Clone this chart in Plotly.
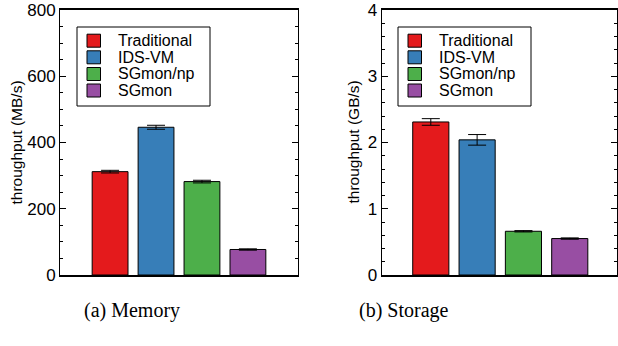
import plotly.graph_objects as go

W, H = 618, 346

series = ["Traditional", "IDS-VM", "SGmon/np", "SGmon"]
colors = ["#e41a1c", "#377eb8", "#4daf4a", "#984ea3"]

mem_values = [312, 446, 282, 77]
mem_errors = [4, 6, 4, 2]
sto_values = [2.31, 2.04, 0.66, 0.55]
sto_errors = [0.05, 0.08, 0.01, 0.01]

mem_ticks = [0, 200, 400, 600, 800]
sto_ticks = [0, 1, 2, 3, 4]


def px_x(p):
    return p / W


def px_y(p):
    return 1 - p / H


fig = go.Figure()
for i, name in enumerate(series):
    fig.add_trace(go.Bar(
        x=[i], y=[mem_values[i]], name=name, xaxis="x", yaxis="y",
        marker=dict(color=colors[i], line=dict(color="black", width=1)),
        error_y=dict(type="data", array=[mem_errors[i]], color="black",
                     thickness=1, width=9),
        width=0.78, showlegend=False,
    ))
    fig.add_trace(go.Bar(
        x=[i], y=[sto_values[i]], name=name, xaxis="x2", yaxis="y2",
        marker=dict(color=colors[i], line=dict(color="black", width=1)),
        error_y=dict(type="data", array=[sto_errors[i]], color="black",
                     thickness=1, width=9),
        width=0.78, showlegend=False,
    ))

ydom = [px_y(275), px_y(10)]
xcommon = dict(showticklabels=False, ticks="", showgrid=False, zeroline=False,
               showline=True, linecolor="black", linewidth=2, mirror=True,
               automargin=False)
ycommon = dict(showgrid=False, zeroline=False, showline=True, linecolor="black",
               linewidth=1, mirror="ticks", ticks="inside", ticklen=6,
               tickcolor="black", tickwidth=1,
               tickfont=dict(family="Liberation Sans", size=17, color="black"),
               automargin=False)

fig.update_layout(
    width=W, height=H,
    margin=dict(l=0, r=0, t=0, b=0, autoexpand=False),
    paper_bgcolor="white", plot_bgcolor="white",
    barmode="overlay",
    xaxis=dict(domain=[px_x(60), px_x(298)], range=[-1.09, 4.09], anchor="y", **xcommon),
    yaxis=dict(domain=ydom, range=[0, 800], tickvals=mem_ticks, anchor="x",
               minor=dict(dtick=50, ticks="inside", ticklen=3, tickcolor="black"),
               **ycommon),
    xaxis2=dict(domain=[px_x(381.7), px_x(617)], range=[-1.06, 4.02], anchor="y2", **xcommon),
    yaxis2=dict(domain=ydom, range=[0, 4], tickvals=sto_ticks, anchor="x2",
                minor=dict(dtick=0.2, ticks="inside", ticklen=3, tickcolor="black"),
                **ycommon),
)

shapes = []
annotations = []

# axis titles
for xc, txt in [(16, "throughput (MB/s)"), (353, "throughput (GB/s)")]:
    annotations.append(dict(xref="paper", yref="paper", x=px_x(xc), y=px_y(142.5),
                            text=txt, showarrow=False, textangle=-90,
                            xanchor="center", yanchor="middle",
                            font=dict(family="Liberation Sans", size=15.5, color="black")))

# legends drawn as boxes
row_y = [40.7, 57.3, 74.0, 90.5]
for off in [0, 321]:
    shapes.append(dict(type="rect", xref="paper", yref="paper",
                       x0=px_x(77 + off), x1=px_x(210 + off),
                       y0=px_y(106), y1=px_y(27),
                       line=dict(color="black", width=1), fillcolor="white", layer="above"))
    for i, name in enumerate(series):
        shapes.append(dict(type="rect", xref="paper", yref="paper",
                           x0=px_x(87 + off), x1=px_x(100.5 + off),
                           y0=px_y(row_y[i] + 6.5), y1=px_y(row_y[i] - 6.5),
                           line=dict(color="black", width=1), fillcolor=colors[i],
                           layer="above"))
        annotations.append(dict(xref="paper", yref="paper", x=px_x(115.5 + off),
                                y=px_y(row_y[i]), text=name, showarrow=False,
                                xanchor="left", yanchor="middle",
                                font=dict(family="Liberation Sans", size=16, color="black")))

annotations.append(dict(xref="paper", yref="paper", x=px_x(132), y=px_y(310),
                        text="(a) Memory", showarrow=False, xanchor="center", yanchor="middle",
                        font=dict(family="Liberation Serif", size=20, color="black")))
annotations.append(dict(xref="paper", yref="paper", x=px_x(404), y=px_y(310),
                        text="(b) Storage", showarrow=False, xanchor="center", yanchor="middle",
                        font=dict(family="Liberation Serif", size=20, color="black")))

fig.update_layout(shapes=shapes, annotations=annotations)

fig.write_html("out.html",
               config={"displayModeBar": False},
               post_script="document.body.style.margin='0';document.body.style.overflow='hidden';")
